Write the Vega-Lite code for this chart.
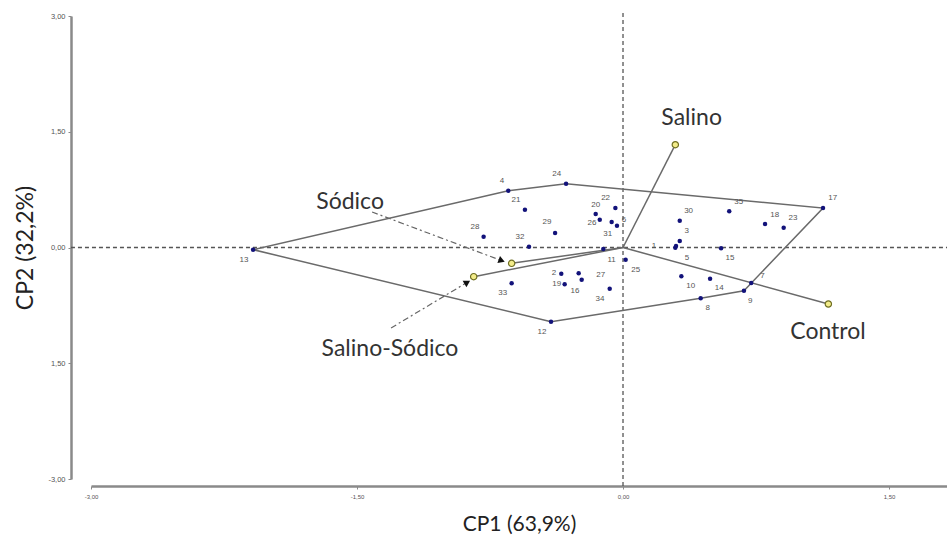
{
  "$schema": "https://vega.github.io/schema/vega-lite/v6.json",
  "width": 856,
  "height": 463,
  "autosize": "none",
  "padding": {"left": 91, "top": 16, "right": 0, "bottom": 59},
  "background": "white",
  "config": {"view": {"stroke": null}, "font": "Liberation Sans"},
  "datasets": {
    "obs": [
      {"id": "13", "x": -2.086, "y": -0.028, "lx": -2.137, "ly": -0.158},
      {"id": "4", "x": -0.647, "y": 0.736, "lx": -0.682, "ly": 0.861},
      {"id": "24", "x": -0.321, "y": 0.826, "lx": -0.374, "ly": 0.952},
      {"id": "21", "x": -0.553, "y": 0.49, "lx": -0.603, "ly": 0.615},
      {"id": "29", "x": -0.383, "y": 0.188, "lx": -0.429, "ly": 0.33},
      {"id": "28", "x": -0.786, "y": 0.14, "lx": -0.835, "ly": 0.266},
      {"id": "32", "x": -0.53, "y": 0.01, "lx": -0.581, "ly": 0.136},
      {"id": "20", "x": -0.154, "y": 0.434, "lx": -0.154, "ly": 0.551},
      {"id": "22", "x": -0.043, "y": 0.512, "lx": -0.098, "ly": 0.641},
      {"id": "26", "x": -0.131, "y": 0.36, "lx": -0.175, "ly": 0.317},
      {"id": "6", "x": -0.064, "y": 0.33, "lx": 0.006, "ly": 0.356},
      {"id": "31", "x": -0.034, "y": 0.282, "lx": -0.086, "ly": 0.175},
      {"id": "11", "x": -0.111, "y": -0.019, "lx": -0.064, "ly": -0.162},
      {"id": "25", "x": 0.015, "y": -0.158, "lx": 0.072, "ly": -0.288},
      {"id": "2", "x": -0.348, "y": -0.339, "lx": -0.389, "ly": -0.33},
      {"id": "19", "x": -0.329, "y": -0.477, "lx": -0.374, "ly": -0.473},
      {"id": "16", "x": -0.25, "y": -0.334, "lx": -0.271, "ly": -0.563},
      {"id": "27", "x": -0.233, "y": -0.417, "lx": -0.126, "ly": -0.352},
      {"id": "34", "x": -0.075, "y": -0.534, "lx": -0.13, "ly": -0.667},
      {"id": "33", "x": -0.628, "y": -0.464, "lx": -0.678, "ly": -0.589},
      {"id": "12", "x": -0.406, "y": -0.961, "lx": -0.457, "ly": -1.091},
      {"id": "35", "x": 0.599, "y": 0.469, "lx": 0.652, "ly": 0.589},
      {"id": "17", "x": 1.128, "y": 0.512, "lx": 1.183, "ly": 0.637},
      {"id": "30", "x": 0.32, "y": 0.347, "lx": 0.37, "ly": 0.469},
      {"id": "18", "x": 0.801, "y": 0.304, "lx": 0.855, "ly": 0.425},
      {"id": "23", "x": 0.906, "y": 0.256, "lx": 0.959, "ly": 0.378},
      {"id": "3", "x": 0.32, "y": 0.084, "lx": 0.359, "ly": 0.21},
      {"id": "1", "x": 0.295, "y": -0.003, "lx": 0.175, "ly": 0.016},
      {"id": "5", "x": 0.299, "y": 0.019, "lx": 0.361, "ly": -0.136},
      {"id": "15", "x": 0.553, "y": -0.01, "lx": 0.603, "ly": -0.14},
      {"id": "10", "x": 0.329, "y": -0.373, "lx": 0.382, "ly": -0.503},
      {"id": "14", "x": 0.491, "y": -0.404, "lx": 0.543, "ly": -0.528},
      {"id": "9", "x": 0.682, "y": -0.56, "lx": 0.718, "ly": -0.689},
      {"id": "7", "x": 0.723, "y": -0.46, "lx": 0.786, "ly": -0.373},
      {"id": "8", "x": 0.438, "y": -0.658, "lx": 0.478, "ly": -0.788}
    ],
    "hull": [
      {"o": 1, "x": -2.086, "y": -0.028},
      {"o": 2, "x": -0.647, "y": 0.736},
      {"o": 3, "x": -0.321, "y": 0.826},
      {"o": 4, "x": 1.128, "y": 0.512},
      {"o": 5, "x": 0.682, "y": -0.56},
      {"o": 6, "x": 0.438, "y": -0.658},
      {"o": 7, "x": -0.406, "y": -0.961},
      {"o": 8, "x": -2.086, "y": -0.028}
    ],
    "sup": [
      {"name": "Salino", "ox": 0, "oy": 0, "x": 0.295, "y": 1.332, "lx": 0.387, "ly": 1.677},
      {"name": "Control", "ox": 0, "oy": 0, "x": 1.158, "y": -0.732, "lx": 1.156, "ly": -1.095},
      {"name": "Sódico", "ox": 0, "oy": 0, "x": -0.628, "y": -0.205, "lx": -1.539, "ly": 0.589},
      {"name": "Salino-Sódico", "ox": 0, "oy": 0, "x": -0.842, "y": -0.378, "lx": -1.314, "ly": -1.316}
    ],
    "arrows": [
      {"name": "Sódico", "x": -1.415, "y": 0.46, "x2": -0.684, "y2": -0.171},
      {"name": "Salino-Sódico", "x": -1.308, "y": -1.043, "x2": -0.878, "y2": -0.451}
    ],
    "refs": [
      {"x": 0, "x2": 0, "y": -3.09, "y2": 3.05},
      {"x": -3.113, "x2": 1.827, "y": 0, "y2": 0}
    ]
  },
  "layer": [
    {
      "data": {"name": "refs"},
      "mark": {"type": "rule", "color": "#555555", "strokeDash": [4, 3], "strokeWidth": 1.3},
      "encoding": {
        "x": {
          "field": "x", "type": "quantitative",
          "scale": {"domain": [-3, 1.827], "nice": false, "zero": false},
          "axis": {
            "title": "CP1 (63,9%)", "values": [-3, -1.5, 0, 1.5],
            "labelExpr": "replace(replace(format(datum.value, '.2f'), '.', ','), '−', '-')",
            "offset": 7, "grid": false, "domainColor": "#8a8a8a", "domainWidth": 2.5,
            "tickColor": "#8a8a8a", "tickSize": 3, "labelFontSize": 6, "labelColor": "#555555",
            "labelFlush": false, "labelOverlap": false,
            "titleFont": "Lato", "titleFontSize": 21, "titleFontWeight": "normal", "titleColor": "#222222",
            "titlePadding": 14, "labelPadding": 4
          }
        },
        "x2": {"field": "x2"},
        "y": {
          "field": "y", "type": "quantitative",
          "scale": {"domain": [-3, 3], "nice": false, "zero": false},
          "axis": {
            "title": "CP2  (32,2%)", "values": [-3, -1.5, 0, 1.5, 3],
            "labelExpr": "datum.value == -1.5 ? '1,50' : replace(replace(format(datum.value, '.2f'), '.', ','), '−', '-')",
            "offset": 20, "grid": false, "domainColor": "#8a8a8a", "domainWidth": 2.5,
            "tickColor": "#8a8a8a", "tickSize": 3, "labelFontSize": 7.5, "labelColor": "#555555",
            "labelFlush": false, "labelOverlap": false,
            "titleFont": "Lato", "titleFontSize": 23, "titleFontWeight": "normal", "titleColor": "#222222",
            "titlePadding": 10, "labelPadding": 3
          }
        },
        "y2": {"field": "y2"}
      }
    },
    {
      "data": {"name": "hull"},
      "mark": {"type": "line", "color": "#6a6a6a", "strokeWidth": 1.5},
      "encoding": {
        "x": {"field": "x", "type": "quantitative"},
        "y": {"field": "y", "type": "quantitative"},
        "order": {"field": "o", "type": "quantitative"}
      }
    },
    {
      "data": {"name": "sup"},
      "mark": {"type": "rule", "color": "#6a6a6a", "strokeWidth": 1.5},
      "encoding": {
        "x": {"field": "ox", "type": "quantitative"},
        "y": {"field": "oy", "type": "quantitative"},
        "x2": {"field": "x"},
        "y2": {"field": "y"}
      }
    },
    {
      "data": {"name": "arrows"},
      "mark": {"type": "rule", "color": "#666666", "strokeWidth": 1.2, "strokeDash": [6, 3, 2, 3]},
      "encoding": {
        "x": {"field": "x", "type": "quantitative"},
        "y": {"field": "y", "type": "quantitative"},
        "x2": {"field": "x2"},
        "y2": {"field": "y2"}
      }
    },
    {
      "data": {"name": "arrows"},
      "transform": [{"filter": "datum.name == 'Sódico'"}],
      "mark": {"type": "point", "shape": "triangle-right", "angle": 20.6, "filled": true, "color": "#111111", "size": 55, "opacity": 1},
      "encoding": {
        "x": {"field": "x2", "type": "quantitative"},
        "y": {"field": "y2", "type": "quantitative"}
      }
    },
    {
      "data": {"name": "arrows"},
      "transform": [{"filter": "datum.name == 'Salino-Sódico'"}],
      "mark": {"type": "point", "shape": "triangle-right", "angle": 329.1, "filled": true, "color": "#111111", "size": 55, "opacity": 1},
      "encoding": {
        "x": {"field": "x2", "type": "quantitative"},
        "y": {"field": "y2", "type": "quantitative"}
      }
    },
    {
      "data": {"name": "obs"},
      "mark": {"type": "circle", "color": "#12127a", "size": 20, "opacity": 1},
      "encoding": {
        "x": {"field": "x", "type": "quantitative"},
        "y": {"field": "y", "type": "quantitative"}
      }
    },
    {
      "data": {"name": "obs"},
      "mark": {"type": "text", "fontSize": 8, "color": "#555555", "font": "Liberation Sans"},
      "encoding": {
        "x": {"field": "lx", "type": "quantitative"},
        "y": {"field": "ly", "type": "quantitative"},
        "text": {"field": "id", "type": "nominal"}
      }
    },
    {
      "data": {"name": "sup"},
      "mark": {"type": "point", "shape": "circle", "filled": true, "fill": "#f3ec8a", "stroke": "#6e6e22", "strokeWidth": 1.2, "size": 40, "opacity": 1},
      "encoding": {
        "x": {"field": "x", "type": "quantitative"},
        "y": {"field": "y", "type": "quantitative"}
      }
    },
    {
      "data": {"name": "sup"},
      "mark": {"type": "text", "fontSize": 23, "color": "#333333", "font": "Lato"},
      "encoding": {
        "x": {"field": "lx", "type": "quantitative"},
        "y": {"field": "ly", "type": "quantitative"},
        "text": {"field": "name", "type": "nominal"}
      }
    }
  ]
}
